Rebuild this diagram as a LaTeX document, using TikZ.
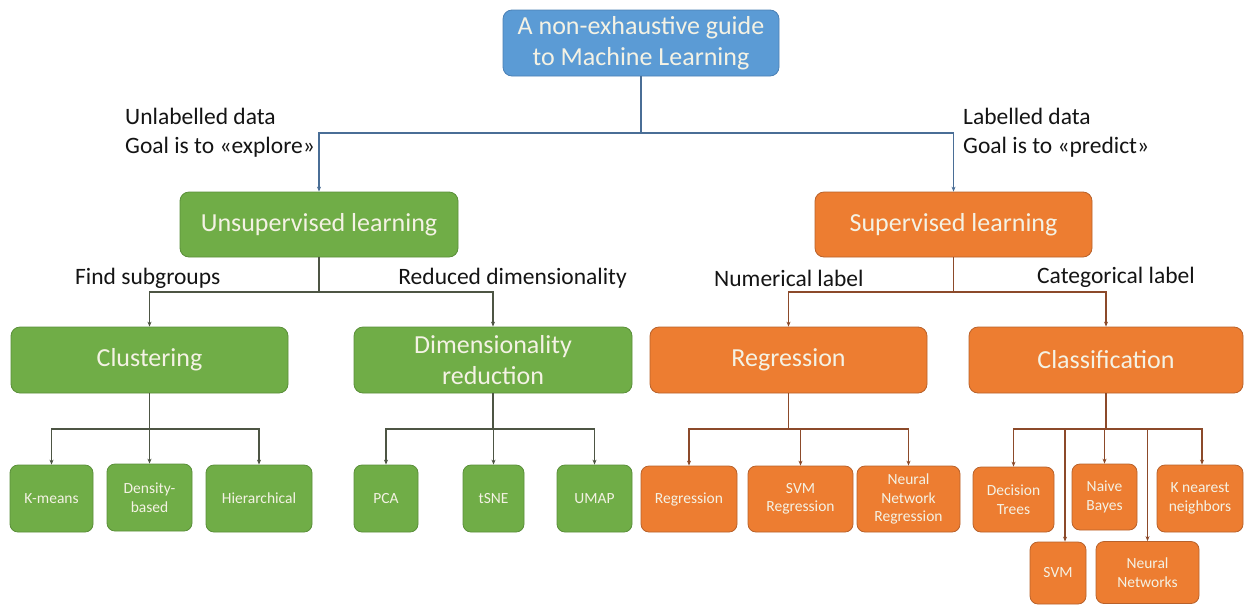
\documentclass[tikz,border=0pt]{standalone}
\usepackage{fontspec}
\setmainfont{Carlito}
\usetikzlibrary{arrows.meta}
\definecolor{gfill}{HTML}{70AD47}
\definecolor{gdraw}{HTML}{5A8F39}
\definecolor{ofill}{HTML}{ED7D31}
\definecolor{odraw}{HTML}{B8612A}
\definecolor{bfill}{HTML}{5B9BD5}
\definecolor{bdraw}{HTML}{4A80B5}
\definecolor{boxtext}{HTML}{F4F2E4}
\definecolor{lbltext}{HTML}{141414}
\definecolor{tline}{HTML}{4A6E96}
\definecolor{gline}{HTML}{4D5544}
\definecolor{oline}{HTML}{8C4A2A}
\begin{document}
\begin{tikzpicture}[x=1pt,y=-1pt,
  box/.style={rounded corners=9pt, line width=0.8pt, inner sep=2pt, align=center, text=boxtext},
  gbox/.style={box, fill=gfill, draw=gdraw},
  obox/.style={box, fill=ofill, draw=odraw},
  bbox/.style={box, fill=bfill, draw=bdraw},
  big/.style={font=\fontsize{26}{31}\selectfont},
  small/.style={font=\fontsize{15.5}{18.5}\selectfont, rounded corners=8pt},
  lbl/.style={font=\fontsize{23.5}{29}\selectfont, inner sep=0pt, align=left, text=lbltext},
  tip/.style={-{Stealth[length=5pt,width=4pt]}},
  tconn/.style={draw=tline, line width=1.3pt},
  gconn/.style={draw=gline, line width=1.3pt},
  oconn/.style={draw=oline, line width=1.3pt}]
\fill[white] (0,0) rectangle (1244,606);
\useasboundingbox (0,0) rectangle (1244,606);

% top
\node[bbox,big,minimum width=276pt,minimum height=66pt] (title) at (641,43) {A non-exhaustive guide\\to Machine Learning};

% level 1
\node[gbox,big,minimum width=278pt,minimum height=65pt] (unsup) at (319,224.5) {Unsupervised learning};
\node[obox,big,minimum width=277pt,minimum height=65pt] (sup) at (953.5,224.5) {Supervised learning};

% level 2
\node[gbox,big,minimum width=277pt,minimum height=66pt] (clust) at (149.5,360) {Clustering};
\node[gbox,big,minimum width=278pt,minimum height=66pt] (dimred) at (493,360) {Dimensionality\\reduction};
\node[obox,big,minimum width=277pt,minimum height=66pt] (regr) at (788.5,360) {Regression};
\node[obox,big,minimum width=274pt,minimum height=66pt] (class) at (1106,360) {Classification};

% level 3
\node[gbox,small,minimum width=83pt,minimum height=67pt] (kmeans) at (51.5,498.5) {K-means};
\node[gbox,small,minimum width=85pt,minimum height=67pt] (density) at (149.5,497.5) {Density-\\based};
\node[gbox,small,minimum width=106pt,minimum height=67pt] (hier) at (259,498.5) {Hierarchical};
\node[gbox,small,minimum width=64pt,minimum height=67pt] (pca) at (386,498.5) {PCA};
\node[gbox,small,minimum width=61pt,minimum height=67pt] (tsne) at (493.5,498.5) {tSNE};
\node[gbox,small,minimum width=75pt,minimum height=67pt] (umap) at (594.5,498.5) {UMAP};

\node[obox,small,minimum width=96pt,minimum height=66pt] (reg2) at (689,499) {Regression};
\node[obox,small,minimum width=105pt,minimum height=66pt] (svmreg) at (800.5,499) {SVM\\Regression};
\node[obox,small,minimum width=103pt,minimum height=66pt] (nnreg) at (908.5,499) {Neural\\Network\\Regression};

\node[obox,small,minimum width=81pt,minimum height=65pt] (dtree) at (1013.5,499.5) {Decision\\Trees};
\node[obox,small,minimum width=65pt,minimum height=66pt] (naive) at (1104.5,497) {Naive\\Bayes};
\node[obox,small,minimum width=86pt,minimum height=67pt] (knn) at (1200,498.5) {K nearest\\neighbors};
\node[obox,small,minimum width=56pt,minimum height=62pt] (svm) at (1058,573) {SVM};
\node[obox,small,minimum width=103pt,minimum height=62pt] (nn) at (1147.5,572.5) {Neural\\Networks};

% labels
\node[lbl,anchor=west] (lunsup) at (125,133) {Unlabelled data\\Goal is to «explore»};
\node[lbl,anchor=west] (lsup) at (963,133) {Labelled data\\Goal is to «predict»};
\node[lbl,anchor=west] (lfind) at (75,278) {Find subgroups};
\node[lbl,anchor=east] (lred) at (627,278) {Reduced dimensionality};
\node[lbl,anchor=west] (lnum) at (714,278) {Numerical label};
\node[lbl,anchor=west] (lcat) at (1037,277) {Categorical label};

% connectors
\coordinate (j0) at (641,133);
\draw[tconn] (title.south) -- (j0);
\draw[tconn,tip] (j0) -| (unsup.north);
\draw[tconn,tip] (j0) -| (sup.north);

\coordinate (j1) at (319,292);
\draw[gconn] (unsup.south) -- (j1);
\draw[gconn,tip] (j1) -| (clust.north);
\draw[gconn,tip] (j1) -| (dimred.north);

\coordinate (j2) at (953.5,292);
\draw[oconn] (sup.south) -- (j2);
\draw[oconn,tip] (j2) -| (regr.north);
\draw[oconn,tip] (j2) -| (class.north);

\coordinate (j3) at (149.5,429);
\draw[gconn] (clust.south) -- (j3);
\draw[gconn,tip] (j3) -| (kmeans.north);
\draw[gconn,tip] (j3) -- (density.north);
\draw[gconn,tip] (j3) -| (hier.north);

\coordinate (j4) at (493,429);
\draw[gconn] (dimred.south) -- (j4);
\draw[gconn,tip] (j4) -| (pca.north);
\draw[gconn,tip] (j4) -| (tsne.north);
\draw[gconn,tip] (j4) -| (umap.north);

\coordinate (j5) at (788.5,429);
\draw[oconn] (regr.south) -- (j5);
\draw[oconn,tip] (j5) -| (reg2.north);
\draw[oconn,tip] (j5) -| (svmreg.north);
\draw[oconn,tip] (j5) -| (nnreg.north);

\coordinate (j6) at (1106,429);
\draw[oconn] (class.south) -- (j6);
\draw[oconn,tip] (j6) -| (dtree.north);
\draw[oconn,tip] (j6) -| ([xshift=7pt]svm.north);
\draw[oconn,tip] (j6) -| (naive.north);
\draw[oconn,tip] (j6) -| (nn.north);
\draw[oconn,tip] (j6) -| ([xshift=2pt]knn.north);
\end{tikzpicture}
\end{document}
